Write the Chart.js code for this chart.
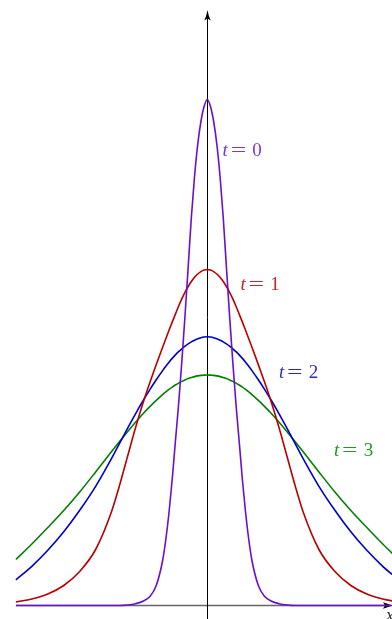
<!DOCTYPE html>
<html>
<head>
<meta charset="utf-8">
<script src="https://cdn.jsdelivr.net/npm/chart.js@4.4.1/dist/chart.umd.min.js"></script>
<style>
  html, body { margin: 0; padding: 0; background: #fff; }
  #wrap { width: 392px; height: 619px; }
</style>
</head>
<body>
<div id="wrap"><canvas id="heatChart" width="392" height="619"></canvas></div>
<script>
// x positions (same for all curves)
const xValues = [-6, -5.5, -5, -4.5, -4, -3.5, -3, -2.75, -2.5, -2.25, -2, -1.8, -1.6, -1.4, -1.3, -1.2, -1.1, -1, -0.9, -0.8, -0.7, -0.6, -0.5, -0.4, -0.3, -0.2, -0.1,
  0, 0.1, 0.2, 0.3, 0.4, 0.5, 0.6, 0.7, 0.8, 0.9, 1, 1.1, 1.2, 1.3, 1.4, 1.6, 1.8, 2, 2.25, 2.5, 2.75, 3, 3.5, 4, 4.5, 5, 5.5, 6];

// u(x, t)
const t0Values = [0, 0, 0, 0, 0, 0, 0, 0, 0.005, 0.018, 0.045, 0.09, 0.2, 0.45, 0.66, 0.93, 1.26, 1.64, 2.01, 2.43, 2.89, 3.38, 3.88, 4.29, 4.61, 4.84, 4.99,
  5.06, 4.99, 4.84, 4.61, 4.29, 3.88, 3.38, 2.89, 2.43, 2.01, 1.64, 1.26, 0.93, 0.66, 0.45, 0.2, 0.09, 0.045, 0.018, 0.005, 0, 0, 0, 0, 0, 0, 0, 0];
const t1Values = [0.035, 0.065, 0.115, 0.2, 0.34, 0.56, 0.94, 1.202, 1.49, 1.777, 2.039, 2.229, 2.409, 2.583, 2.668, 2.752, 2.834, 2.914, 2.993, 3.066, 3.132, 3.19, 3.24, 3.282, 3.315, 3.339, 3.354,
  3.36, 3.354, 3.339, 3.315, 3.282, 3.24, 3.19, 3.132, 3.066, 2.993, 2.914, 2.834, 2.752, 2.668, 2.583, 2.409, 2.229, 2.039, 1.777, 1.49, 1.202, 0.94, 0.56, 0.34, 0.2, 0.115, 0.065, 0.035];
const t2Values = [0.257, 0.392, 0.552, 0.737, 0.952, 1.192, 1.472, 1.622, 1.772, 1.917, 2.055, 2.159, 2.257, 2.349, 2.392, 2.433, 2.471, 2.506, 2.538, 2.567, 2.593, 2.616, 2.636, 2.653, 2.667, 2.678, 2.685,
  2.688, 2.685, 2.678, 2.667, 2.653, 2.636, 2.616, 2.593, 2.567, 2.538, 2.506, 2.471, 2.433, 2.392, 2.349, 2.257, 2.159, 2.055, 1.917, 1.772, 1.622, 1.472, 1.192, 0.952, 0.737, 0.552, 0.392, 0.257];
const t3Values = [0.46, 0.615, 0.78, 0.95, 1.135, 1.335, 1.54, 1.64, 1.738, 1.833, 1.923, 1.989, 2.051, 2.109, 2.136, 2.161, 2.184, 2.205, 2.224, 2.241, 2.256, 2.269, 2.28, 2.289, 2.296, 2.301, 2.304,
  2.305, 2.304, 2.301, 2.296, 2.289, 2.28, 2.269, 2.256, 2.241, 2.224, 2.205, 2.184, 2.161, 2.136, 2.109, 2.051, 1.989, 1.923, 1.833, 1.738, 1.64, 1.54, 1.335, 1.135, 0.95, 0.78, 0.615, 0.46];

const seriesNames = ['0', '1', '2', '3'];
const seriesColors = ['#6a0fcc', '#b80000', '#0000c8', '#007f00'];
// where the "t = n" labels sit, in data units (left edge, baseline)
const labelSpots = [[0.48, 4.495], [1.04, 3.155], [2.25, 2.275], [3.97, 1.495]];

function toPoints(ys) {
  return xValues.map((x, i) => ({ x: x, y: ys[i] }));
}

const axesPlugin = {
  id: 'axesPlugin',
  beforeDatasetsDraw(chart) {
    const ctx = chart.ctx;
    const sx = chart.scales.x, sy = chart.scales.y;
    const x0 = Math.floor(sx.getPixelForValue(0)) + 0.5;
    const y0 = sy.getPixelForValue(0);
    ctx.save();
    // horizontal axis
    ctx.strokeStyle = '#666';
    ctx.lineWidth = 1.3;
    ctx.beginPath();
    ctx.moveTo(sx.getPixelForValue(-6), y0);
    ctx.lineTo(chart.width - 6, y0);
    ctx.stroke();
    // vertical axis
    ctx.strokeStyle = '#000';
    ctx.lineWidth = 1;
    ctx.beginPath();
    ctx.moveTo(x0, chart.height);
    ctx.lineTo(x0, 16);
    ctx.stroke();
    // arrow heads
    ctx.fillStyle = '#000';
    ctx.beginPath();
    ctx.moveTo(x0, 10);
    ctx.quadraticCurveTo(x0 + 1, 16, x0 + 3.2, 20.5);
    ctx.lineTo(x0, 18.5);
    ctx.lineTo(x0 - 3.2, 20.5);
    ctx.quadraticCurveTo(x0 - 1, 16, x0, 10);
    ctx.fill();
    ctx.beginPath();
    ctx.moveTo(chart.width + 0.5, y0);
    ctx.lineTo(chart.width - 9, y0 - 3.2);
    ctx.lineTo(chart.width - 7, y0);
    ctx.lineTo(chart.width - 9, y0 + 3.2);
    ctx.fill();
    // x label (cut by the edge)
    ctx.font = 'italic 18px "Liberation Serif"';
    ctx.textBaseline = 'alphabetic';
    ctx.textAlign = 'left';
    ctx.fillStyle = '#333';
    ctx.fillText('x', chart.width - 6, y0 + 15);
    ctx.restore();
  },
  afterDatasetsDraw(chart) {
    const ctx = chart.ctx;
    const sx = chart.scales.x, sy = chart.scales.y;
    ctx.save();
    ctx.textBaseline = 'alphabetic';
    labelSpots.forEach((spot, i) => {
      const px = sx.getPixelForValue(spot[0]);
      const py = sy.getPixelForValue(spot[1]);
      ctx.fillStyle = seriesColors[i];
      ctx.globalAlpha = 0.85;
      ctx.textAlign = 'left';
      ctx.font = 'italic 19px "Liberation Serif"';
      ctx.fillText('t', px, py);
      ctx.font = '19px "Liberation Serif"';
      ctx.textAlign = 'center';
      ctx.save();
      ctx.translate(px + 15.8, py);
      ctx.scale(1.45, 1);
      ctx.fillText('=', 0, 0);
      ctx.restore();
      ctx.fillText(seriesNames[i], px + 34.5, py);
    });
    ctx.restore();
  }
};

const datasets = [t0Values, t1Values, t2Values, t3Values].map((vals, i) => ({
  label: 't = ' + seriesNames[i],
  data: toPoints(vals),
  borderColor: seriesColors[i],
  borderWidth: 1.6,
  pointRadius: 0,
  fill: false,
  cubicInterpolationMode: 'monotone'
}));

new Chart(document.getElementById('heatChart').getContext('2d'), {
  type: 'line',
  data: { datasets: datasets },
  options: {
    responsive: false,
    animation: false,
    layout: { padding: 0 },
    plugins: { legend: { display: false }, tooltip: { enabled: false } },
    scales: {
      x: { type: 'linear', min: -6.498, max: 5.79, display: false },
      y: { type: 'linear', min: -0.135, max: 6.055, display: false }
    }
  },
  plugins: [axesPlugin]
});
</script>
</body>
</html>
